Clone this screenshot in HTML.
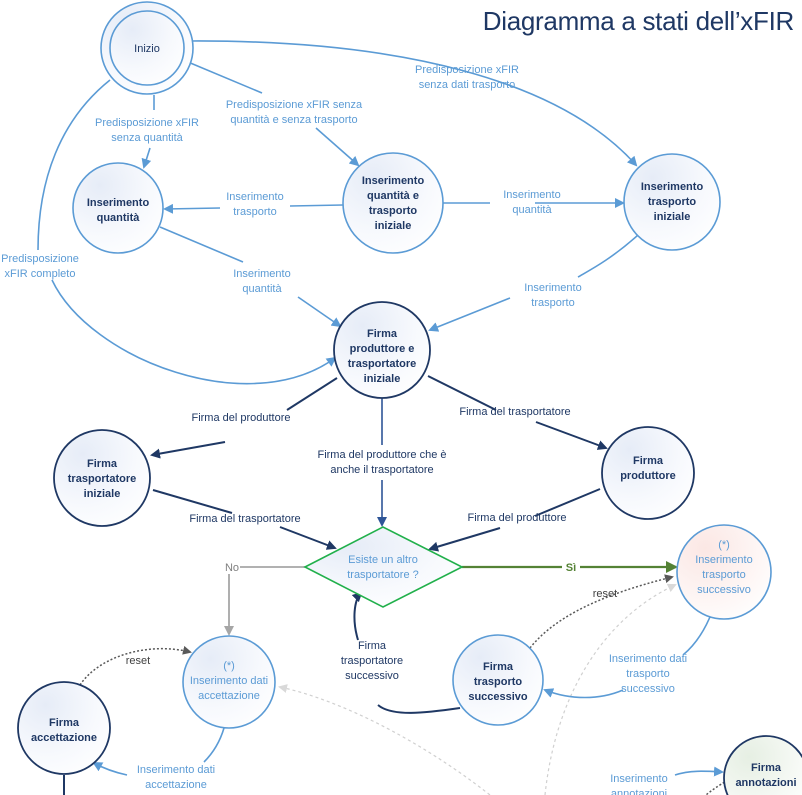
<!DOCTYPE html>
<html><head><meta charset="utf-8"><style>
html,body{margin:0;padding:0;background:#fff;}
svg{display:block;font-family:"Liberation Sans",sans-serif;}
.nt{fill:#1f3864;font-size:11px;text-anchor:middle;}
.lb{fill:#5b9bd5;font-size:11px;text-anchor:middle;}
.ld{fill:#1f3864;font-size:11px;text-anchor:middle;}
</style></head><body>
<svg width="802" height="795" viewBox="0 0 802 795" xmlns="http://www.w3.org/2000/svg">
<defs>
<radialGradient id="g" cx="0.3" cy="0.25" r="0.9"><stop offset="0" stop-color="#e6ecf7"/><stop offset="0.6" stop-color="#f7f9fd"/><stop offset="1" stop-color="#ffffff"/></radialGradient>
<radialGradient id="gp" cx="0.3" cy="0.25" r="0.9"><stop offset="0" stop-color="#fbe7e4"/><stop offset="1" stop-color="#ffffff"/></radialGradient>
<radialGradient id="gg" cx="0.3" cy="0.25" r="0.9"><stop offset="0" stop-color="#e6efe3"/><stop offset="1" stop-color="#ffffff"/></radialGradient>
<marker id="ab" markerWidth="10" markerHeight="10" refX="8" refY="5" orient="auto" markerUnits="userSpaceOnUse"><path d="M0,0 L10,5 L0,10 z" fill="#5b9bd5"/></marker>
<marker id="ad" markerWidth="10" markerHeight="10" refX="8" refY="5" orient="auto" markerUnits="userSpaceOnUse"><path d="M0,0 L10,5 L0,10 z" fill="#1f3864"/></marker>
<marker id="am" markerWidth="10" markerHeight="10" refX="8" refY="5" orient="auto" markerUnits="userSpaceOnUse"><path d="M0,0 L10,5 L0,10 z" fill="#2e5597"/></marker>
<marker id="ag" markerWidth="12" markerHeight="12" refX="10" refY="6" orient="auto" markerUnits="userSpaceOnUse"><path d="M0,0 L12,6 L0,12 z" fill="#548235"/></marker>
<marker id="agr" markerWidth="10" markerHeight="10" refX="8" refY="5" orient="auto" markerUnits="userSpaceOnUse"><path d="M0,0 L10,5 L0,10 z" fill="#a6a6a6"/></marker>
<marker id="ak" markerWidth="9" markerHeight="9" refX="7" refY="4.5" orient="auto" markerUnits="userSpaceOnUse"><path d="M0,0 L9,4.5 L0,9 z" fill="#595959"/></marker>
<marker id="al" markerWidth="9" markerHeight="9" refX="7" refY="4.5" orient="auto" markerUnits="userSpaceOnUse"><path d="M0,0 L9,4.5 L0,9 z" fill="#d9d9d9"/></marker>
</defs>

<text x="794" y="30" text-anchor="end" fill="#1f3864" font-size="26" letter-spacing="-0.3">Diagramma a stati dell’xFIR</text>

<path d="M490,795 C420,740 340,700 280,687" fill="none" stroke="#d0d0d0" stroke-width="1.2" stroke-dasharray="3,3" marker-end="url(#al)"/>
<path d="M545,795 C555,700 600,620 675,585" fill="none" stroke="#d0d0d0" stroke-width="1.2" stroke-dasharray="3,3" marker-end="url(#al)"/>

<g fill="none" stroke="#5b9bd5" stroke-width="1.6">
<path d="M191,41 C400,40 560,80 636,165" marker-end="url(#ab)"/>
<path d="M154,95 L154,110"/>
<path d="M150,148 L144,167" marker-end="url(#ab)"/>
<path d="M188,62 L262,93"/>
<path d="M316,128 L358,165" marker-end="url(#ab)"/>
<path d="M343,205 L290,206"/>
<path d="M220,208 L165,209" marker-end="url(#ab)"/>
<path d="M443,203 L490,203"/>
<path d="M535,203 L623,203" marker-end="url(#ab)"/>
<path d="M160,227 L243,262"/>
<path d="M298,297 L340,326" marker-end="url(#ab)"/>
<path d="M638,235 C610,260 590,270 578,277"/>
<path d="M510,298 C480,310 460,318 430,330" marker-end="url(#ab)"/>
<path d="M110,80 C60,120 38,180 38,250"/>
<path d="M52,280 C90,360 250,420 335,358" marker-end="url(#ab)"/>
<path d="M712,612 C705,630 695,645 683,655"/>
<path d="M623,690 C600,700 570,700 545,690" marker-end="url(#ab)"/>
<path d="M224,728 C219,745 211,755 204,762"/>
<path d="M127,775 C113,772 103,768 94,763" marker-end="url(#ab)"/>
<path d="M675,775 C690,770 705,771 722,772" marker-end="url(#ab)"/>
</g>

<g fill="none" stroke="#1f3864" stroke-width="2">
<path d="M337,378 L287,410"/>
<path d="M225,442 L152,455" marker-end="url(#ad)"/>
<path d="M428,376 L496,410"/>
<path d="M536,422 L606,448" marker-end="url(#ad)"/>
<path d="M153,490 L232,513"/>
<path d="M280,527 L335,548" marker-end="url(#ad)"/>
<path d="M600,489 L535,516"/>
<path d="M500,528 L430,549" marker-end="url(#ad)"/>
<path d="M378,705 C392,717 425,713 460,708"/>
<path d="M358,640 C352,620 354,600 361,593" marker-end="url(#ad)"/>
<path d="M64,775 L64,795"/>
</g>
<path d="M728,780 C718,786 712,790 706,795" stroke="#595959" stroke-width="1.5" stroke-dasharray="2,2" fill="none"/>
<path d="M382,398 L382,445" stroke="#2e5597" stroke-width="1.6" fill="none"/>
<path d="M382,480 L382,525" stroke="#2e5597" stroke-width="1.6" fill="none" marker-end="url(#am)"/>

<path d="M305,567 L240,567" stroke="#a6a6a6" stroke-width="1.8" fill="none"/>
<path d="M229,574 L229,634" stroke="#a6a6a6" stroke-width="1.8" fill="none" marker-end="url(#agr)"/>
<text x="232" y="571" text-anchor="middle" fill="#7f7f7f" font-size="11">No</text>
<path d="M462,567 L562,567 M580,567 L676,567" stroke="#548235" stroke-width="2.2" fill="none" marker-end="url(#ag)"/>
<text x="571" y="571" text-anchor="middle" fill="#548235" font-size="11" font-weight="bold">Sì</text>

<path d="M530,648 C560,610 620,590 672,577" fill="none" stroke="#595959" stroke-width="1.5" stroke-dasharray="2,2" marker-end="url(#ak)"/>
<text x="605" y="597" text-anchor="middle" fill="#404040" font-size="11">reset</text>
<path d="M80,685 C100,655 150,642 190,652" fill="none" stroke="#595959" stroke-width="1.5" stroke-dasharray="2,2" marker-end="url(#ak)"/>
<text x="138" y="664" text-anchor="middle" fill="#404040" font-size="11">reset</text>

<g stroke="#5b9bd5" stroke-width="1.6" fill="url(#g)">
<circle cx="147" cy="48" r="46"/>
<circle cx="147" cy="48" r="37"/>
<circle cx="118" cy="208" r="45"/>
<circle cx="393" cy="203" r="50"/>
<circle cx="672" cy="202" r="48"/>
<circle cx="229" cy="682" r="46"/>
<circle cx="498" cy="680" r="45"/>
<circle cx="724" cy="572" r="47" fill="url(#gp)"/>
</g>
<g stroke="#1f3864" stroke-width="1.8" fill="url(#g)">
<circle cx="382" cy="350" r="48"/>
<circle cx="102" cy="478" r="48"/>
<circle cx="648" cy="473" r="46"/>
<circle cx="64" cy="728" r="46"/>
<circle cx="766" cy="778" r="42" fill="url(#gg)"/>
</g>
<polygon points="305,567 383,527 462,567 383,607" fill="url(#g)" stroke="#21b04b" stroke-width="1.6"/>

<text class="nt" x="147" y="52">Inizio</text>
<text class="nt" x="118" y="206" font-weight="bold">Inserimento<tspan x="118" dy="15">quantità</tspan></text>
<text class="nt" x="393" y="184" font-weight="bold">Inserimento<tspan x="393" dy="15">quantità e</tspan><tspan x="393" dy="15">trasporto</tspan><tspan x="393" dy="15">iniziale</tspan></text>
<text class="nt" x="672" y="190" font-weight="bold">Inserimento<tspan x="672" dy="15">trasporto</tspan><tspan x="672" dy="15">iniziale</tspan></text>
<text class="nt" x="382" y="337" font-weight="bold">Firma<tspan x="382" dy="15">produttore e</tspan><tspan x="382" dy="15">trasportatore</tspan><tspan x="382" dy="15">iniziale</tspan></text>
<text class="nt" x="102" y="467" font-weight="bold">Firma<tspan x="102" dy="15">trasportatore</tspan><tspan x="102" dy="15">iniziale</tspan></text>
<text class="nt" x="648" y="464" font-weight="bold">Firma<tspan x="648" dy="15">produttore</tspan></text>
<text class="lb" x="383" y="563">Esiste un altro<tspan x="383" dy="15">trasportatore ?</tspan></text>
<text class="lb" x="724" y="548">(*)<tspan x="724" dy="15">Inserimento</tspan><tspan x="724" dy="15">trasporto</tspan><tspan x="724" dy="15">successivo</tspan></text>
<text class="lb" x="229" y="669">(*)<tspan x="229" dy="15">Inserimento dati</tspan><tspan x="229" dy="15">accettazione</tspan></text>
<text class="nt" x="498" y="670" font-weight="bold">Firma<tspan x="498" dy="15">trasporto</tspan><tspan x="498" dy="15">successivo</tspan></text>
<text class="nt" x="64" y="726" font-weight="bold">Firma<tspan x="64" dy="15">accettazione</tspan></text>
<text class="nt" x="766" y="771" font-weight="bold">Firma<tspan x="766" dy="15">annotazioni</tspan></text>

<text class="lb" x="467" y="73">Predisposizione xFIR<tspan x="467" dy="15">senza dati trasporto</tspan></text>
<text class="lb" x="294" y="108">Predisposizione xFIR senza<tspan x="294" dy="15">quantità e senza trasporto</tspan></text>
<text class="lb" x="147" y="126">Predisposizione xFIR<tspan x="147" dy="15">senza quantità</tspan></text>
<text class="lb" x="255" y="200">Inserimento<tspan x="255" dy="15">trasporto</tspan></text>
<text class="lb" x="532" y="198">Inserimento<tspan x="532" dy="15">quantità</tspan></text>
<text class="lb" x="40" y="262">Predisposizione<tspan x="40" dy="15">xFIR completo</tspan></text>
<text class="lb" x="262" y="277">Inserimento<tspan x="262" dy="15">quantità</tspan></text>
<text class="lb" x="553" y="291">Inserimento<tspan x="553" dy="15">trasporto</tspan></text>
<text class="lb" x="648" y="662">Inserimento dati<tspan x="648" dy="15">trasporto</tspan><tspan x="648" dy="15">successivo</tspan></text>
<text class="lb" x="176" y="773">Inserimento dati<tspan x="176" dy="15">accettazione</tspan></text>
<text class="lb" x="639" y="782">Inserimento<tspan x="639" dy="15">annotazioni</tspan></text>
<text class="ld" x="241" y="421">Firma del produttore</text>
<text class="ld" x="515" y="415">Firma del trasportatore</text>
<text class="ld" x="382" y="458">Firma del produttore che è<tspan x="382" dy="15">anche il trasportatore</tspan></text>
<text class="ld" x="245" y="522">Firma del trasportatore</text>
<text class="ld" x="517" y="521">Firma del produttore</text>
<text class="ld" x="372" y="649">Firma<tspan x="372" dy="15">trasportatore</tspan><tspan x="372" dy="15">successivo</tspan></text>
</svg>
</body></html>
